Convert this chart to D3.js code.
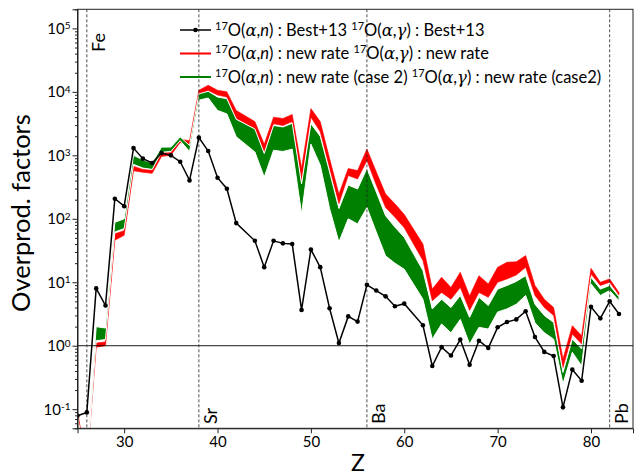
<!DOCTYPE html>
<html lang="en">
<head>
    <meta charset="UTF-8">
    <title>Overproduction factors</title>
    <script src="https://d3js.org/d3.v7.min.js"></script>
    <style>
        body {
            margin: 0;
            background: #fff;
            font-family: Lato, "Open Sans", sans-serif;
        }
        .axis text {
            font-family: Lato, "Open Sans", sans-serif;
            font-size: 15px;
            fill: #000;
        }
        .axis path, .axis line {
            stroke: #222;
        }
    </style>
</head>
<body>
    <svg id="chart" width="635" height="475"></svg>

    <script>
        // Atomic numbers (Tc=43 and Pm=61 are missing)
        const Z = [25, 26, 27, 28, 29, 30, 31, 32, 33, 34, 35, 36, 37, 38, 39, 40, 41, 42,
                   44, 45, 46, 47, 48, 49, 50, 51, 52, 53, 54, 55, 56, 57, 58, 59, 60,
                   62, 63, 64, 65, 66, 67, 68, 69, 70, 71, 72, 73, 74, 75, 76, 77, 78, 79, 80, 81, 82, 83];

        // Best+13 overproduction factors
        const best13 = [0.079, 0.089, 8.0, 4.3, 207, 158, 1300, 886, 757, 1088, 1000, 794, 403, 1900, 1170, 444, 298, 85.5,
                        45, 17.3, 45, 41, 40, 3.66, 32.8, 17.3, 3.9, 1.1, 2.9, 2.4, 9.1, 7.4, 6.0, 4.2, 4.6,
                        2.1, 0.48, 0.95, 0.70, 1.25, 0.5, 1.2, 0.92, 1.95, 2.36, 2.6, 3.5, 1.37, 0.8, 0.69, 0.107, 0.42, 0.28, 4.1, 2.7, 5.0, 3.16];

        // new rate: band upper / lower
        const newHi = [0.09, 0.014, 1.1, 1.15, 58, 65, 670, 600, 580, 1100, 1100, 1800, 1700, 10600, 12700, 10600, 10000, 5100,
                       3400, 1500, 4000, 3800, 4400, 630, 5450, 3400, 890, 245, 620, 575, 1260, 550, 245, 172, 117,
                       40, 7.8, 12, 8.3, 14.4, 6.1, 12.7, 9.4, 17.2, 20.7, 21, 26.3, 8.9, 5.4, 4.0, 0.62, 2.07, 1.44, 16.6, 10, 11.3, 6.9];
        const newLo = [0.08, 0.012, 0.95, 1.0, 46, 55, 570, 540, 520, 960, 1000, 1600, 1450, 9200, 10500, 8900, 8300, 3800,
                       2650, 1120, 3150, 2950, 3400, 400, 4000, 2350, 620, 173, 480, 425, 830, 340, 150, 106, 72,
                       22, 5.1, 6.9, 5.4, 8.3, 3.6, 6.9, 5.8, 10, 11.3, 13, 17.2, 6.2, 4.0, 3.0, 0.45, 1.53, 1.06, 13.5, 8.9, 10, 6.3];

        // new rate (case 2): band upper / lower
        const case2Hi = [0.075, 0.013, 2.0, 1.9, 88, 100, 1000, 850, 760, 1350, 1350, 1950, 1430, 9300, 10200, 8300, 7800, 3700,
                         2600, 1070, 2960, 2800, 3200, 355, 3150, 2000, 550, 145, 340, 295, 620, 265, 112, 74, 51,
                         15.3, 3.8, 5.4, 4.0, 6.2, 2.8, 5.8, 4.3, 7.8, 8.9, 10.3, 12.7, 4.5, 3.0, 2.33, 0.38, 1.27, 0.89, 12, 7.8, 8.9, 5.9];
        const case2Lo = [0.065, 0.011, 1.2, 1.25, 62, 70, 720, 630, 600, 1120, 1150, 1700, 1150, 7400, 8000, 5100, 4500, 1960,
                         1130, 455, 1200, 1150, 1250, 120, 1500, 700, 145, 43, 100, 83, 150, 62, 26, 20, 16,
                         5.4, 1.27, 2.2, 1.6, 2.6, 1.06, 1.95, 1.83, 3.4, 3.8, 4.5, 6.2, 2.3, 1.6, 1.27, 0.25, 0.79, 0.48, 9.4, 6.2, 7.4, 5.1];

        // marked elements
        const markZ = [26, 38, 56, 82];
        const markNames = ["Fe", "Sr", "Ba", "Pb"];

        const xTicks = [30, 40, 50, 60, 70, 80];
        const yTicks = [0.1, 1, 10, 100, 1000, 10000, 100000];

        const legendLabels = ["Best+13 ", "new rate ", "new rate (case 2) "];
        const legendLabels2 = ["Best+13", "new rate", "new rate (case2)"];

        const svg = d3.select("#chart");
        const pLeft = 77.5, pRight = 633, pTop = 9.3, pBottom = 428.3;

        const x = d3.scaleLinear().domain([25, 84.5]).range([pLeft, pRight]);
        const y = d3.scaleLog().domain([0.05, 2e5]).range([pBottom, pTop]);

        svg.append("clipPath").attr("id", "clip")
           .append("rect")
           .attr("x", pLeft).attr("y", pTop)
           .attr("width", pRight - pLeft).attr("height", pBottom - pTop);

        const plot = svg.append("g").attr("clip-path", "url(#clip)");

        const rows = Z.map((z, i) => ({
            z: z, b: best13[i],
            nh: newHi[i], nl: newLo[i],
            ch: case2Hi[i], cl: case2Lo[i]
        }));

        // bands
        plot.append("path")
            .datum(rows)
            .attr("fill", "#ff0000")
            .attr("stroke", "#ff0000")
            .attr("stroke-width", 0.6)
            .attr("d", d3.area().x(d => x(d.z)).y0(d => y(d.nl)).y1(d => y(d.nh)));

        plot.append("path")
            .datum(rows)
            .attr("fill", "#008000")
            .attr("stroke", "#fff")
            .attr("stroke-width", 1)
            .attr("d", d3.area().x(d => x(d.z)).y0(d => y(d.cl)).y1(d => y(d.ch)));

        // y = 1 line
        plot.append("line")
            .attr("x1", pLeft).attr("x2", pRight)
            .attr("y1", y(1)).attr("y2", y(1))
            .attr("stroke", "#000").attr("stroke-width", 0.9);

        // element lines
        plot.selectAll(".mark")
            .data(markZ)
            .enter()
            .append("line")
            .attr("x1", d => x(d)).attr("x2", d => x(d))
            .attr("y1", pTop).attr("y2", pBottom)
            .attr("stroke", "#222")
            .attr("stroke-width", 0.8)
            .attr("stroke-dasharray", "3,2");

        // Best+13 line with dots
        plot.append("path")
            .datum(rows)
            .attr("fill", "none")
            .attr("stroke", "#000")
            .attr("stroke-width", 1.5)
            .attr("d", d3.line().x(d => x(d.z)).y(d => y(d.b)));

        plot.selectAll(".dot")
            .data(rows)
            .enter()
            .append("circle")
            .attr("cx", d => x(d.z))
            .attr("cy", d => y(d.b))
            .attr("r", 2.3)
            .attr("fill", "#000");

        // element labels
        markNames.forEach((name, i) => {
            const tx = x(markZ[i]) + 18;
            const ty = name === "Fe" ? 33 : 424;
            svg.append("text")
               .attr("transform", `translate(${tx},${ty}) rotate(-90)`)
               .attr("text-anchor", name === "Fe" ? "end" : "start")
               .style("font-size", "18px")
               .text(name);
        });

        // axes
        svg.append("g")
           .attr("class", "axis")
           .attr("transform", `translate(0,${pBottom})`)
           .call(d3.axisBottom(x).tickValues(xTicks).tickSize(5).tickPadding(3).tickFormat(d3.format("d")));

        const yAxis = svg.append("g")
           .attr("class", "axis")
           .attr("transform", `translate(${pLeft},0)`)
           .call(d3.axisLeft(y).tickValues(yTicks).tickSize(5).tickPadding(2));

        yAxis.selectAll(".tick text").each(function(d) {
            const t = d3.select(this);
            t.text("");
            t.append("tspan").text("10");
            t.append("tspan").attr("dy", "-0.45em").style("font-size", "10px")
             .text(Math.round(Math.log10(d)));
        });

        const minor = [];
        for (let e = -2; e <= 5; e++) {
            for (let k = 2; k <= 9; k++) {
                const v = k * Math.pow(10, e);
                if (v >= 0.05 && v <= 2e5) minor.push(v);
            }
        }
        svg.append("g")
           .attr("class", "axis")
           .attr("transform", `translate(${pLeft},0)`)
           .call(d3.axisLeft(y).tickValues(minor).tickSize(2.5).tickFormat(""))
           .select(".domain").remove();

        // frame
        svg.append("rect")
           .attr("x", pLeft).attr("y", pTop)
           .attr("width", pRight - pLeft).attr("height", pBottom - pTop)
           .attr("fill", "none")
           .attr("stroke", "#222")
           .attr("stroke-width", 1);

        // axis titles
        svg.append("text")
           .attr("transform", "translate(30,213) rotate(-90)")
           .attr("text-anchor", "middle")
           .style("font-size", "25.5px")
           .text("Overprod. factors");

        svg.append("text")
           .attr("x", 358).attr("y", 471)
           .attr("text-anchor", "middle")
           .style("font-size", "23px")
           .text("Z");

        // legend
        const legColors = ["#000", "#ff0000", "#008000"];
        const leg = svg.append("g");
        legendLabels.forEach((lab, i) => {
            const by = 35.5 + i * 23.5;
            const ly = by - 5.5;
            leg.append("line")
               .attr("x1", 180).attr("x2", 211)
               .attr("y1", ly).attr("y2", ly)
               .attr("stroke", legColors[i])
               .attr("stroke-width", i === 0 ? 1.5 : 2);
            if (i === 0) {
                leg.append("circle").attr("cx", 195.5).attr("cy", ly).attr("r", 2.3).attr("fill", "#000");
            }
            const t = leg.append("text").attr("x", 215).attr("y", by).style("font-size", "16.5px");
            const parts = [
                ["17", "sup"], ["O(", ""], ["\u03b1", "gr"], [",", ""], ["n", "it"], [") : " + lab, ""],
                ["17", "sup"], ["O(", ""], ["\u03b1", "gr"], [",", ""], ["\u03b3", "gr"], [") : " + legendLabels2[i], ""]
            ];
            let shifted = false;
            parts.forEach(p => {
                const s = t.append("tspan").text(p[0]);
                if (p[1] === "sup") {
                    s.attr("dy", "-6").style("font-size", "11px");
                    shifted = true;
                } else {
                    if (shifted) { s.attr("dy", "6"); shifted = false; }
                    if (p[1] === "it") s.style("font-style", "italic");
                    if (p[1] === "gr") s.style("font-style", "italic").style("font-family", "'DejaVu Serif', serif");
                }
            });
        });
    </script>
</body>
</html>
